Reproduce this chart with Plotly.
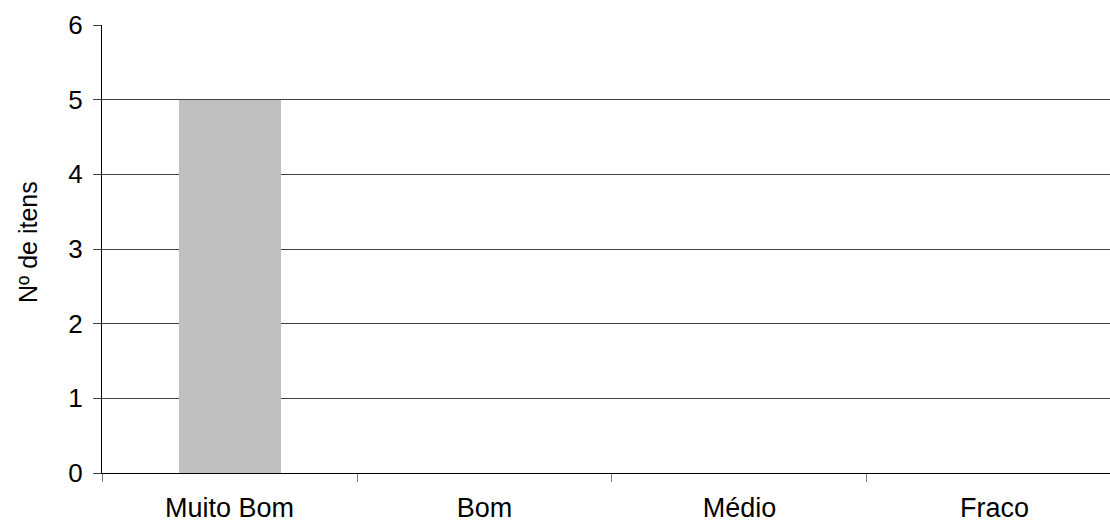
import plotly.graph_objects as go

categorias = ["Muito Bom", "Bom", "Médio", "Fraco"]
n_itens = [5, 0, 0, 0]
y_ticks = [0, 1, 2, 3, 4, 5, 6]
y_titulo = "Nº de itens"

fig = go.Figure(
    go.Bar(
        x=categorias,
        y=n_itens,
        width=0.4,
        marker=dict(color="#C0C0C0", line=dict(width=0)),
    )
)

fig.update_layout(
    width=1110,
    height=522,
    margin=dict(l=102, r=0, t=25, b=49, pad=0),
    plot_bgcolor="white",
    paper_bgcolor="white",
    font=dict(family="Liberation Sans, Arial, sans-serif", size=26, color="black"),
    showlegend=False,
    bargap=0,
)

fig.update_xaxes(
    range=[-0.5, 3.453],
    tickson="boundaries",
    ticks="outside",
    ticklen=8,
    tickcolor="#808080",
    tickfont=dict(size=27),
    showline=True,
    linecolor="black",
    linewidth=1,
    showgrid=False,
    automargin=False,
    ticklabelstandoff=11,
)

fig.update_yaxes(
    range=[0, 6],
    tickvals=y_ticks,
    ticks="outside",
    ticklen=8,
    tickcolor="#404040",
    tickfont=dict(size=26),
    showline=True,
    linecolor="black",
    linewidth=1,
    showgrid=True,
    gridcolor="#404040",
    gridwidth=1,
    zeroline=False,
    automargin=False,
    ticklabelstandoff=5,
)

# Y-axis title placed as a rotated annotation
fig.add_annotation(
    text=y_titulo,
    textangle=-90,
    xref="paper",
    yref="paper",
    x=(28 - 102) / 1008,
    y=(473 - 242) / 448,
    xanchor="center",
    yanchor="middle",
    showarrow=False,
    font=dict(size=25, color="black"),
)

fig.write_html("out.html")
